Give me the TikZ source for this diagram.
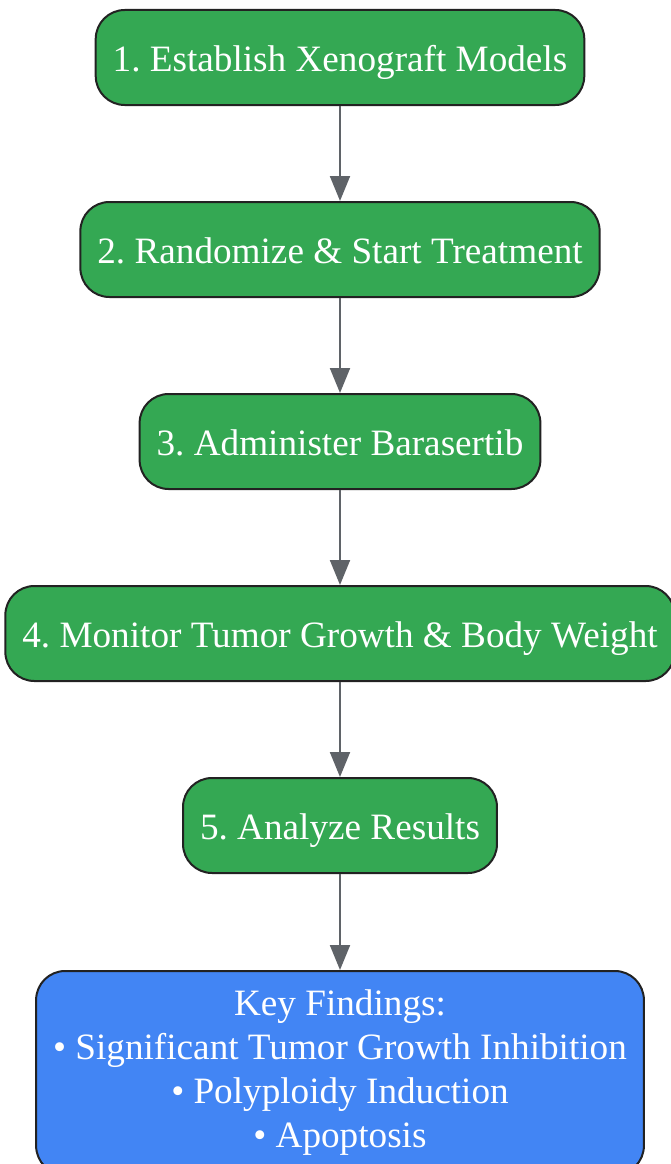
\documentclass[tikz,border=0pt]{standalone}
\usepackage{fontspec}
\setmainfont{Liberation Serif}
\usetikzlibrary{arrows.meta}
\definecolor{stepgreen}{HTML}{34A853}
\definecolor{keyblue}{HTML}{4285F4}
\definecolor{linegray}{HTML}{5F6368}
\definecolor{edgedark}{HTML}{222222}
\frenchspacing

\begin{document}
\begin{tikzpicture}[x=1pt,y=-1pt,
	boxbase/.style={draw=edgedark,line width=2pt,text=white,rounded corners=29pt,inner xsep=17pt,font=\fontsize{37.2}{44}\selectfont},
	stepbox/.style={boxbase,fill=stepgreen,minimum height=95pt,text height=27pt,text depth=0pt},
	findbox/.style={boxbase,fill=keyblue,align=center,inner ysep=19pt},
	flow/.style={draw=linegray,line width=2pt,-{Triangle[width=20pt,length=25pt]}}]
	\useasboundingbox (0,0) rectangle (671,1164);
	\node[stepbox] (establish) at (340,57.5) {1. Establish Xenograft Models};
	\node[stepbox] (randomize) at (340,249.5) {2. Randomize \& Start Treatment};
	\node[stepbox] (administer) at (340,441.5) {3. Administer Barasertib};
	\node[stepbox] (monitor) at (340,633.5) {4. Monitor Tumor Growth \& Body Weight};
	\node[stepbox] (analyze) at (340,825.5) {5. Analyze Results};
	\node[findbox,anchor=north] (findings) at (340,970) {Key Findings:\\ • Significant Tumor Growth Inhibition\\ • Polyploidy Induction\\ • Apoptosis};
	\draw[flow] (establish) -- (randomize);
	\draw[flow] (randomize) -- (administer);
	\draw[flow] (administer) -- (monitor);
	\draw[flow] (monitor) -- (analyze);
	\draw[flow] (analyze) -- (findings);
\end{tikzpicture}
\end{document}
